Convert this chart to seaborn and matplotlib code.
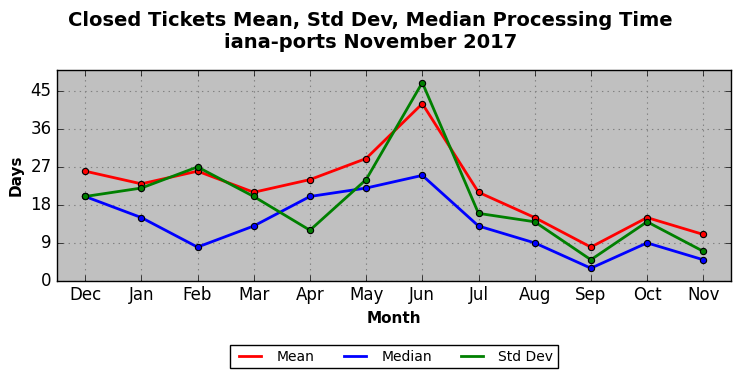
import matplotlib
matplotlib.use("Agg")
import matplotlib.pyplot as plt
import seaborn as sns
import pandas as pd

months = ["Dec", "Jan", "Feb", "Mar", "Apr", "May", "Jun", "Jul", "Aug", "Sep", "Oct", "Nov"]
mean_days = [26, 23, 26, 21, 24, 29, 42, 21, 15, 8, 15, 11]
median_days = [20, 15, 8, 13, 20, 22, 25, 13, 9, 3, 9, 5]
std_days = [20, 22, 27, 20, 12, 24, 47, 16, 14, 5, 14, 7]

plt.style.use("classic")

df = pd.DataFrame({
    "Month": months * 3,
    "Days": mean_days + median_days + std_days,
    "Series": ["Mean"] * 12 + ["Median"] * 12 + ["Std Dev"] * 12,
})

fig, ax = plt.subplots(figsize=(7.41, 3.78), dpi=100)
ax.set_facecolor("#c0c0c0")

sns.lineplot(data=df, x="Month", y="Days", hue="Series",
             palette={"Mean": "red", "Median": "blue", "Std Dev": "green"},
             marker="o", markersize=4.5, markeredgecolor="black", markeredgewidth=0.8,
             linewidth=2, ax=ax)

ax.set_xlim(-0.5, 11.5)
ax.set_ylim(0, 50)
ax.set_yticks([0, 9, 18, 27, 36, 45])
ax.grid(True, color="gray", linestyle=":", linewidth=0.8)
ax.set_axisbelow(True)

ax.set_xlabel("Month", fontsize=11, fontweight="bold")
ax.set_ylabel("Days", fontsize=11, fontweight="bold")
ax.tick_params(labelsize=12)
fig.suptitle("Closed Tickets Mean, Std Dev, Median Processing Time\niana-ports November 2017",
             fontsize=14, fontweight="bold", y=0.972)

handles, labels = ax.get_legend_handles_labels()
for h in handles:
    h.set_marker("")
ax.legend(handles, labels, loc="upper center", bbox_to_anchor=(0.5, -0.27),
          ncol=3, fontsize=10, frameon=True, fancybox=False, handlelength=2.2,
          columnspacing=1.8, borderpad=0.35)

fig.subplots_adjust(left=0.077, right=0.987, top=0.815, bottom=0.257)
fig.savefig("out.png", dpi=100)
